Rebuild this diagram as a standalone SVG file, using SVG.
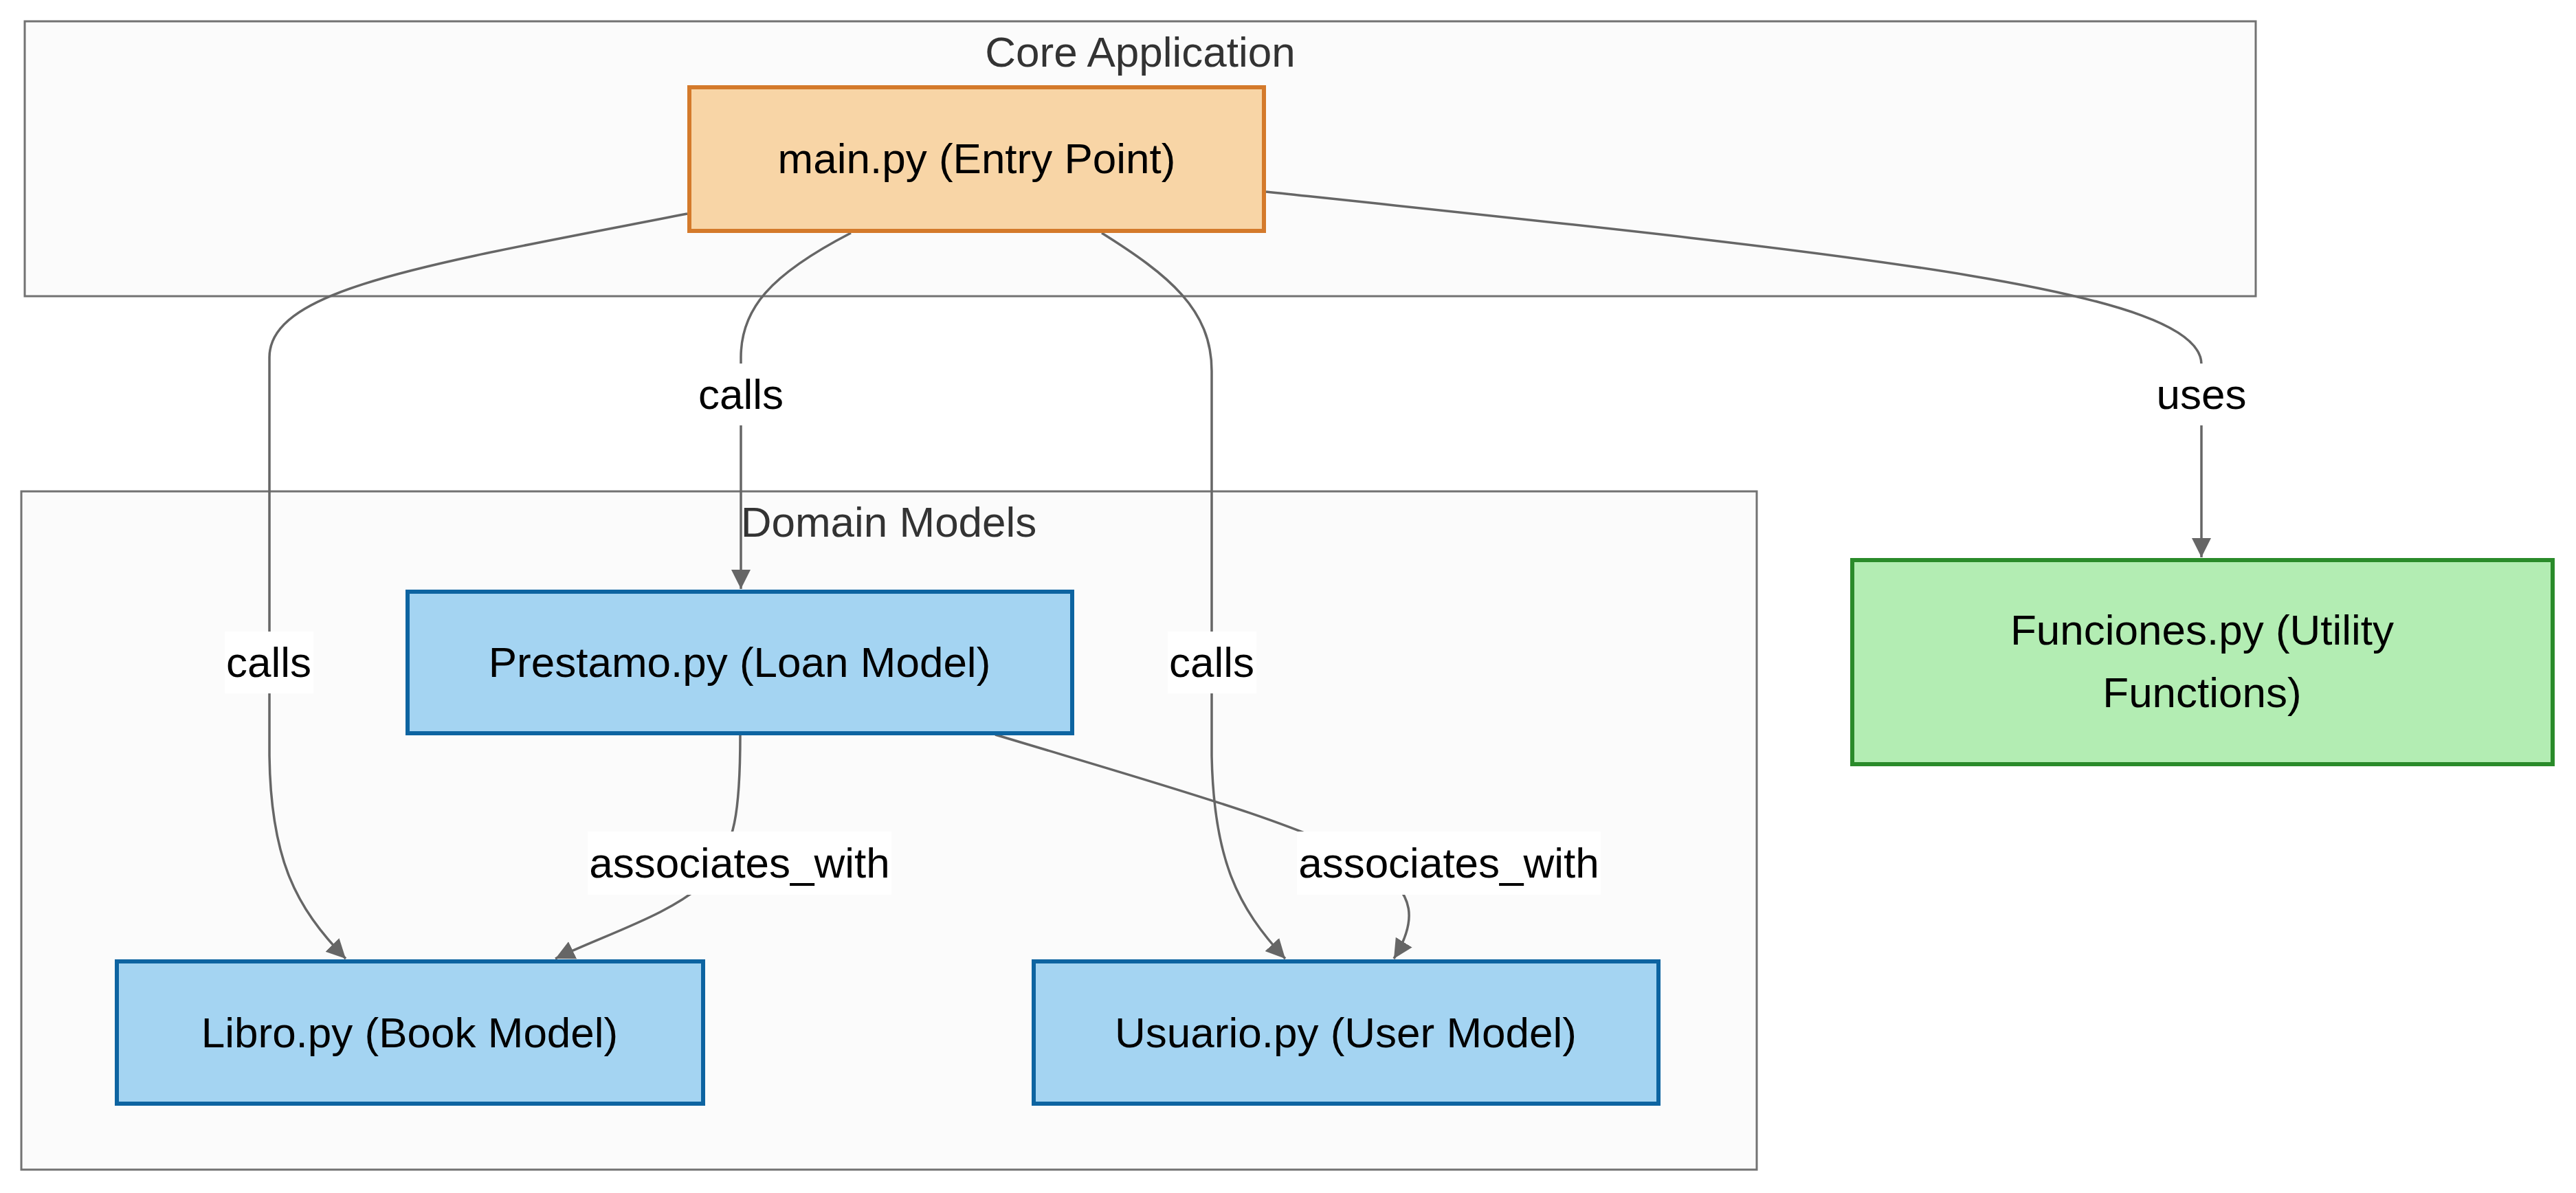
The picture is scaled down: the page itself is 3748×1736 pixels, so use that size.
<svg xmlns="http://www.w3.org/2000/svg" width="3748" height="1736" viewBox="0 0 3748 1736">
<defs>
<style>
.cluster{fill:#fbfbfb;stroke:#727272;stroke-width:3}
.ctitle{font-family:"Liberation Sans",Arial,sans-serif;font-size:62px;fill:#333;text-anchor:middle}
.ntext{font-family:"Liberation Sans",Arial,sans-serif;font-size:62px;fill:#000;text-anchor:middle}
.blue{fill:#a4d4f2;stroke:#0d64a1;stroke-width:6}
.orange{fill:#f8d5a6;stroke:#d47a2b;stroke-width:6}
.green{fill:#b3edb3;stroke:#2a8b2a;stroke-width:6}
.edge{fill:none;stroke:#666;stroke-width:3.5;marker-end:url(#arrow)}
.lbg{fill:#fff}
</style>
<marker id="arrow" viewBox="0 0 10 10" refX="10" refY="5" markerWidth="28" markerHeight="28" markerUnits="userSpaceOnUse" orient="auto">
<path d="M0,0 L10,5 L0,10 z" fill="#666"/>
</marker>
</defs>
<rect width="3748" height="1736" fill="#fff"/>
<g id="cluster-core">
<rect class="cluster" x="36" y="31" width="3246" height="400"/>
<text class="ctitle" x="1659" y="97">Core Application</text>
</g>
<g id="cluster-domain">
<rect class="cluster" x="31" y="715" width="2525" height="987"/>
<text class="ctitle" x="1293" y="781">Domain Models</text>
</g>
<g id="connectors">
<path class="edge" d="M1000,311 C620,385 392,420 392,520 L392,1100 C394,1250 430,1320 503,1395"/>
<path class="edge" d="M1238,339 C1120,400 1078,450 1078,520 L1078,857"/>
<path class="edge" d="M1603,339 C1700,400 1763,450 1763,540 L1763,1100 C1766,1250 1800,1320 1870,1395"/>
<path class="edge" d="M1842,279 C2700,370 3203,420 3203,530 L3203,811"/>
<path class="edge" d="M1077,1069 C1077,1180 1070,1230 1030,1280 C980,1330 880,1360 808,1395"/>
<path class="edge" d="M1448,1069 C1700,1145 1900,1200 2000,1260 C2060,1300 2062,1340 2028,1395"/>
</g>
<g id="edge-labels">
<rect class="lbg" x="327" y="919" width="129" height="90"/>
<text class="ntext" x="391" y="985">calls</text>
<rect class="lbg" x="1014" y="529" width="129" height="90"/>
<text class="ntext" x="1078" y="595">calls</text>
<rect class="lbg" x="1699" y="919" width="129" height="90"/>
<text class="ntext" x="1763" y="985">calls</text>
<rect class="lbg" x="3137" y="529" width="132" height="90"/>
<text class="ntext" x="3203" y="595">uses</text>
<rect class="lbg" x="855" y="1210" width="442" height="92"/>
<text class="ntext" x="1076" y="1277">associates_with</text>
<rect class="lbg" x="1887" y="1210" width="442" height="92"/>
<text class="ntext" x="2108" y="1277">associates_with</text>
</g>
<g id="node-main">
<rect class="orange" x="1003" y="127" width="836" height="209"/>
<text class="ntext" x="1421" y="252">main.py (Entry Point)</text>
</g>
<g id="node-prestamo">
<rect class="blue" x="593" y="861" width="967" height="206"/>
<text class="ntext" x="1076" y="985">Prestamo.py (Loan Model)</text>
</g>
<g id="node-libro">
<rect class="blue" x="170" y="1399" width="853" height="207"/>
<text class="ntext" x="596" y="1524">Libro.py (Book Model)</text>
</g>
<g id="node-usuario">
<rect class="blue" x="1504" y="1399" width="909" height="207"/>
<text class="ntext" x="1958" y="1524">Usuario.py (User Model)</text>
</g>
<g id="node-funciones">
<rect class="green" x="2695" y="815" width="1019" height="297"/>
<text class="ntext" x="3204" y="938">Funciones.py (Utility</text>
<text class="ntext" x="3204" y="1029">Functions)</text>
</g>
</svg>
